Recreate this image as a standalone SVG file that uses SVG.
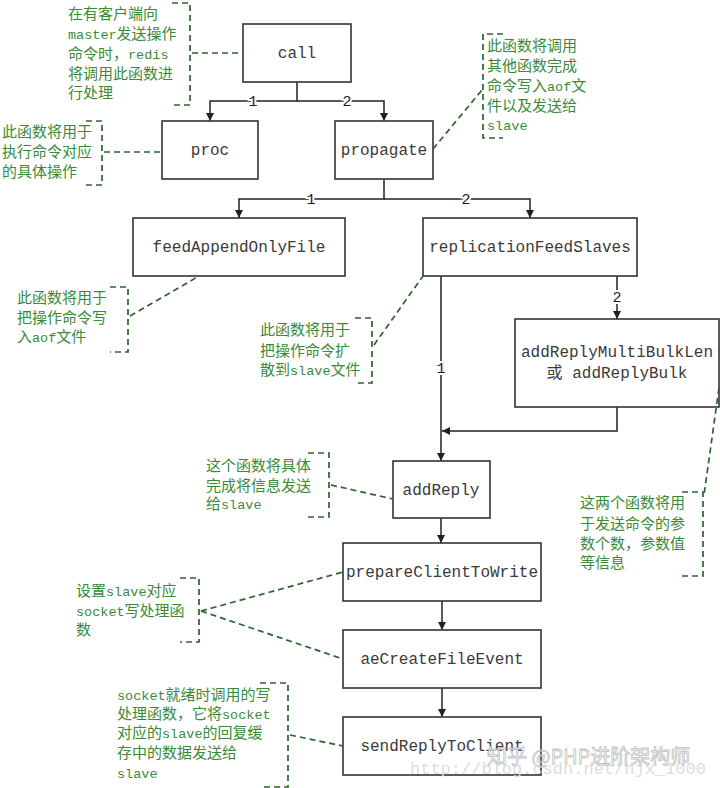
<svg xmlns="http://www.w3.org/2000/svg" width="720" height="788" viewBox="0 0 720 788">
<defs>
<marker id="arr" viewBox="0 0 10 10" refX="10" refY="5" markerWidth="8" markerHeight="8" markerUnits="userSpaceOnUse" orient="auto">
<path d="M0,0 L10,5 L0,10 z" fill="#222"/>
</marker>
<style>
.box{fill:#fff;stroke:#333;stroke-width:1.6}
.bt{font-family:"Liberation Mono","Noto Sans CJK SC",monospace;font-size:16px;fill:#3a3a3a;text-anchor:middle}
.ln{fill:none;stroke:#222;stroke-width:1.5}
.lb{font-family:"Liberation Mono",monospace;font-size:15px;fill:#222;text-anchor:middle;stroke:#fff;stroke-width:4;paint-order:stroke}
.gt{font-family:"Noto Sans CJK SC","Liberation Mono",sans-serif;font-size:15px;fill:#3a8a3a}
.gl{font-family:"Liberation Mono",monospace;font-size:13.5px}
.dl{fill:none;stroke:#2e632e;stroke-width:1.7;stroke-dasharray:6,4}
.wm{font-family:"Noto Sans CJK SC",sans-serif;font-size:20px;fill:#fff;stroke:#bbb;stroke-width:0.8;opacity:0.9}
.wu{font-family:"Liberation Mono",monospace;font-size:17px;fill:#ddd}
</style>
</defs>
<rect width="720" height="788" fill="#fff"/>

<g id="connectors">
<path class="ln" d="M297,82 V101 H210 V121" marker-end="url(#arr)"/>
<path class="ln" d="M297,101 H384 V121" marker-end="url(#arr)"/>
<path class="ln" d="M384,179 V199 H239 V218" marker-end="url(#arr)"/>
<path class="ln" d="M384,199 H530 V218" marker-end="url(#arr)"/>
<path class="ln" d="M441,276 V461" marker-end="url(#arr)"/>
<path class="ln" d="M617,276 V319" marker-end="url(#arr)"/>
<path class="ln" d="M617,407 V431 H442" marker-end="url(#arr)"/>
<path class="ln" d="M441,518 V543" marker-end="url(#arr)"/>
<path class="ln" d="M442,601 V630" marker-end="url(#arr)"/>
<path class="ln" d="M442,688 V717" marker-end="url(#arr)"/>
<text class="lb" x="253" y="106">1</text>
<text class="lb" x="347" y="106">2</text>
<text class="lb" x="311" y="204">1</text>
<text class="lb" x="466" y="204">2</text>
<text class="lb" x="441" y="373">1</text>
<text class="lb" x="617" y="302">2</text>
</g>

<g id="call"><rect class="box" x="243" y="24" width="108" height="58"/><text class="bt" x="297" y="58">call</text></g>
<g id="proc"><rect class="box" x="162" y="121" width="96" height="58"/><text class="bt" x="210" y="155">proc</text></g>
<g id="propagate"><rect class="box" x="335" y="121" width="98" height="58"/><text class="bt" x="384" y="155">propagate</text></g>
<g id="feedAppendOnlyFile"><rect class="box" x="133" y="218" width="212" height="58"/><text class="bt" x="239" y="252">feedAppendOnlyFile</text></g>
<g id="replicationFeedSlaves"><rect class="box" x="423" y="218" width="214" height="58"/><text class="bt" x="530" y="252">replicationFeedSlaves</text></g>
<g id="addReplyMultiBulkLen"><rect class="box" x="515" y="319" width="204" height="88"/><text class="bt" x="617" y="357">addReplyMultiBulkLen</text><text class="bt" x="617" y="378">或 addReplyBulk</text></g>
<g id="addReply"><rect class="box" x="393" y="461" width="97" height="57"/><text class="bt" x="441" y="495">addReply</text></g>
<g id="prepareClientToWrite"><rect class="box" x="343" y="543" width="198" height="58"/><text class="bt" x="442" y="577">prepareClientToWrite</text></g>
<g id="aeCreateFileEvent"><rect class="box" x="343" y="630" width="198" height="58"/><text class="bt" x="442" y="664">aeCreateFileEvent</text></g>
<g id="sendReplyToClient"><rect class="box" x="343" y="717" width="198" height="58"/><text class="bt" x="442" y="751">sendReplyToClient</text></g>

<g id="note-call">
<path class="dl" d="M172,3 H190 V105 H172"/>
<path class="dl" d="M192,53 H243"/>
<text class="gt" x="68" y="19">在有客户端向</text>
<text class="gt" x="68" y="39"><tspan class="gl">master</tspan>发送操作</text>
<text class="gt" x="68" y="59">命令时，<tspan class="gl">redis</tspan></text>
<text class="gt" x="68" y="79">将调用此函数进</text>
<text class="gt" x="68" y="98">行处理</text>
</g>
<g id="note-proc">
<path class="dl" d="M86,121 H102 V185 H86"/>
<path class="dl" d="M104,152 H162"/>
<text class="gt" x="2" y="137">此函数将用于</text>
<text class="gt" x="2" y="157">执行命令对应</text>
<text class="gt" x="2" y="177">的具体操作</text>
</g>
<g id="note-propagate">
<path class="dl" d="M503,34 H483 V138 H503"/>
<path class="dl" d="M433,149 L482,90"/>
<text class="gt" x="487" y="51">此函数将调用</text>
<text class="gt" x="487" y="71">其他函数完成</text>
<text class="gt" x="487" y="91">命令写入<tspan class="gl">aof</tspan>文</text>
<text class="gt" x="487" y="111">件以及发送给</text>
<text class="gt" x="487" y="130"><tspan class="gl">slave</tspan></text>
</g>
<g id="note-feed">
<path class="dl" d="M110,287 H128 V352 H110"/>
<path class="dl" d="M130,316 L199,276"/>
<text class="gt" x="17" y="303">此函数将用于</text>
<text class="gt" x="17" y="323">把操作命令写</text>
<text class="gt" x="17" y="342">入<tspan class="gl">aof</tspan>文件</text>
</g>
<g id="note-repl">
<path class="dl" d="M355,318 H372 V383 H355"/>
<path class="dl" d="M374,345 L423,276"/>
<text class="gt" x="260" y="335">此函数将用于</text>
<text class="gt" x="260" y="356">把操作命令扩</text>
<text class="gt" x="260" y="375">散到<tspan class="gl">slave</tspan>文件</text>
</g>
<g id="note-addReply">
<path class="dl" d="M308,453 H329 V517 H308"/>
<path class="dl" d="M331,485 L393,499"/>
<text class="gt" x="206" y="471">这个函数将具体</text>
<text class="gt" x="206" y="491">完成将信息发送</text>
<text class="gt" x="206" y="509">给<tspan class="gl">slave</tspan></text>
</g>
<g id="note-multi">
<path class="dl" d="M682,492 H703 V576 H682"/>
<path class="dl" d="M719,388 L704,495"/>
<text class="gt" x="580" y="508">这两个函数将用</text>
<text class="gt" x="580" y="529">于发送命令的参</text>
<text class="gt" x="580" y="549">数个数，参数值</text>
<text class="gt" x="580" y="568">等信息</text>
</g>
<g id="note-prepare">
<path class="dl" d="M180,578 H199 V642 H180"/>
<path class="dl" d="M201,611 L343,572"/>
<path class="dl" d="M201,611 L343,659"/>
<text class="gt" x="76" y="596">设置<tspan class="gl">slave</tspan>对应</text>
<text class="gt" x="76" y="616"><tspan class="gl">socket</tspan>写处理函</text>
<text class="gt" x="76" y="635">数</text>
</g>
<g id="note-send">
<path class="dl" d="M260,683 H288 V787 H260"/>
<path class="dl" d="M290,735 L343,746"/>
<text class="gt" x="117" y="700"><tspan class="gl">socket</tspan>就绪时调用的写</text>
<text class="gt" x="117" y="719">处理函数，它将<tspan class="gl">socket</tspan></text>
<text class="gt" x="117" y="738">对应的<tspan class="gl">slave</tspan>的回复缓</text>
<text class="gt" x="117" y="758">存中的数据发送给</text>
<text class="gt" x="117" y="778"><tspan class="gl">slave</tspan></text>
</g>

<g id="watermark">
<text class="wu" x="410" y="774">http://blog.csdn.net/hjx_1000</text>
<text class="wm" x="487" y="764">知乎 @PHP进阶架构师</text>
</g>
</svg>
